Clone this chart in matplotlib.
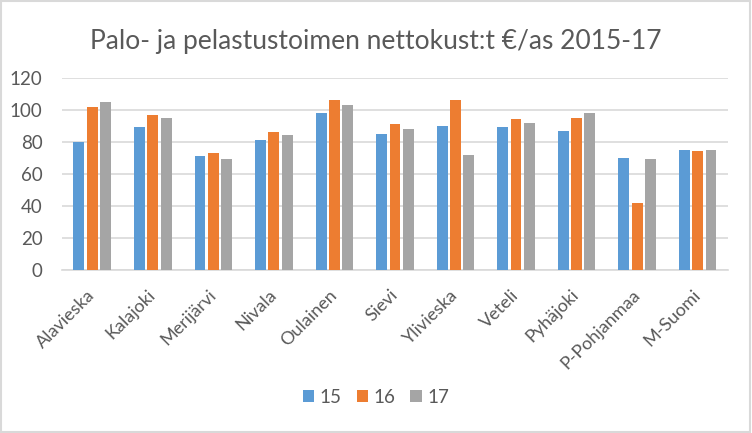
import matplotlib
matplotlib.use("Agg")
import matplotlib.pyplot as plt
import numpy as np
from matplotlib.patches import Rectangle

categories = ["Alavieska", "Kalajoki", "Merijärvi", "Nivala", "Oulainen", "Sievi",
              "Ylivieska", "Veteli", "Pyhäjoki", "P-Pohjanmaa", "M-Suomi"]
v15 = [80, 89, 71, 81, 98, 85, 90, 89, 87, 70, 75]
v16 = [102, 97, 73, 86, 106, 91, 106, 94, 95, 42, 74]
v17 = [105, 95, 69, 84, 103, 88, 72, 92, 98, 69, 75]
series_names = ["15", "16", "17"]
colors = ["#5B9BD5", "#ED7D31", "#A5A5A5"]

plt.rcParams['font.family'] = ['Lato', 'DejaVu Sans']
fig = plt.figure(figsize=(7.52, 4.33), dpi=100)
ax = fig.add_axes([0.0824, 0.3764, 0.8856, 0.4442])

x = np.arange(len(categories))
bw = 0.18
step = 0.22
for i, (vals, name, c) in enumerate(zip([v15, v16, v17], series_names, colors)):
    ax.bar(x + (i - 1) * step, vals, width=bw, color=c, label=name, zorder=3)

ax.set_xlim(-0.5, len(categories) - 0.5)
ax.set_ylim(0, 120)
ax.set_yticks(range(0, 121, 20))
ax.yaxis.grid(True, color="#D9D9D9", linewidth=1.2, zorder=0)
for s in ["top", "right", "left"]:
    ax.spines[s].set_visible(False)
ax.spines["bottom"].set_color("#D9D9D9")
ax.spines["bottom"].set_linewidth(1.2)
ax.tick_params(axis="both", length=0, colors="#595959")
ax.tick_params(axis="y", pad=14, labelsize=13.5)
ax.set_xticks(x)
ax.set_xticklabels(categories, rotation=45, ha="right", va="center",
                   rotation_mode="anchor", fontsize=13)
ax.tick_params(axis="x", pad=16)

fig.text(0.5, 0.905, "Palo- ja pelastustoimen nettokust:t €/as 2015-17",
         ha="center", va="center", fontsize=19, color="#595959")

leg = ax.legend(loc="center", bbox_to_anchor=(0.5, 0.083), bbox_transform=fig.transFigure,
                ncol=3, frameon=False, fontsize=13.5, handlelength=0.6, handleheight=0.6,
                handletextpad=0.3, columnspacing=0.8)
for t in leg.get_texts():
    t.set_color("#595959")

fig.patches.append(Rectangle((0.001, 0.002), 0.997, 0.995, transform=fig.transFigure,
                             fill=False, edgecolor="#D9D9D9", linewidth=1.5))

fig.savefig("out.png", dpi=100)
